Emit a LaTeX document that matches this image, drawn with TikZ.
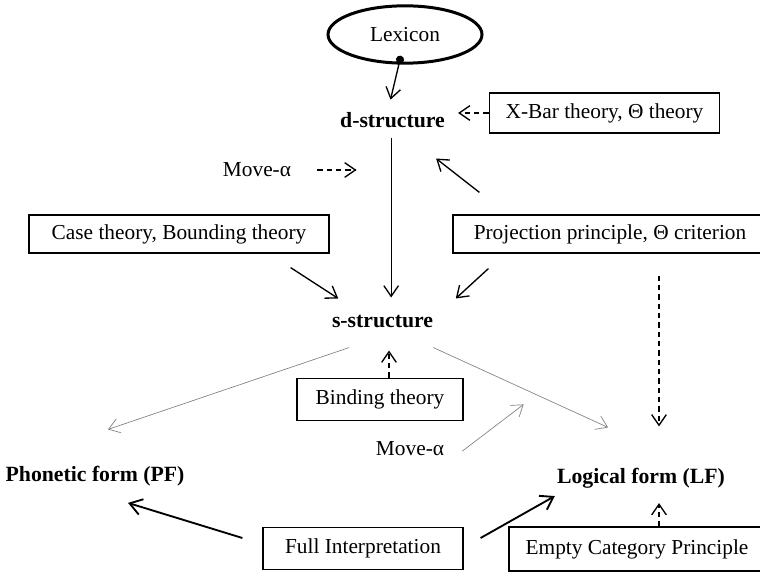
\documentclass[tikz,border=0pt]{standalone}
\usepackage{fontspec}
\setmainfont{Liberation Serif}
\usetikzlibrary{arrows.meta,shapes.geometric}
\begin{document}
\begin{tikzpicture}[x=0.75pt,y=-0.75pt,
	txt/.style={font=\fontsize{16}{19}\selectfont,inner sep=0pt},
	bold/.style={txt,font=\fontsize{16.3}{19}\selectfont\bfseries,anchor=base},
	box/.style={txt,draw,line width=0.9pt},
	arr/.style={-{Straight Barb[length=8pt,width=11pt]},line width=1pt},
	darr/.style={arr,dash pattern=on 4pt off 3pt},
	garr/.style={-{Straight Barb[length=8pt,width=11pt]},line width=0.5pt,gray},
	farr/.style={-{Straight Barb[length=9pt,width=12pt]},line width=1.4pt}]
	\useasboundingbox (0,0) rectangle (760,573);
	\clip (0,0) rectangle (760,573);

	\node[txt,ellipse,draw,line width=2.25pt,minimum width=115.5pt,minimum height=43pt] (lexicon) at (405,34.5) {Lexicon};
	\node[bold] (dstruct) at (392.5,128) {d-structure};
	\node[box,minimum width=173pt,minimum height=30pt] (xbar) at (604.5,113) {X-Bar theory, \char"0398\ theory};
	\node[txt] (movea) at (257,170) {Move-\char"03B1};
	\node[box,minimum width=225pt,minimum height=28.5pt] (casebox) at (179,234) {Case theory, Bounding theory};
	\node[box,minimum width=235.5pt,minimum height=28.5pt] (projbox) at (610,234) {Projection principle, \char"0398\ criterion};
	\node[bold] (sstruct) at (382.5,328) {s-structure};
	\node[box,minimum width=124.5pt,minimum height=32pt] (binding) at (380,399.5) {Binding theory};
	\node[txt,anchor=base] (moveb) at (410,455) {Move-\char"03B1};
	\node[bold] (pf) at (95,481) {Phonetic form (PF)};
	\node[bold] (lf) at (641,483) {Logical form (LF)};
	\node[box,minimum width=150pt,minimum height=32pt] (fullint) at (363,548.5) {Full Interpretation};
	\node[box,minimum width=192pt,minimum height=33pt] (ecp) at (637,549) {Empty Category Principle};

	\draw[{Circle[length=6pt]}-{Straight Barb[length=8pt,width=11pt]},line width=1pt,shorten <=-3pt] ([shift={(-5,-5)}]lexicon.south) -- ([shift={(-2,-13)}]dstruct.north);
	\draw[darr,shorten >=9.75pt] (xbar.west) -- (xbar.west -| dstruct.east);
	\draw[darr,shorten <=19.5pt,shorten >=27pt] (movea.east) -- (movea.east -| dstruct.south);
	\draw[arr,shorten <=6.75pt,shorten >=13.5pt] ([xshift=-1pt]dstruct.south) -- ([xshift=-1pt]dstruct.south |- sstruct.north);
	\draw[arr] ([shift={(-39,14)}]casebox.south east) -- ([shift={(6.5,-17)}]sstruct.north west);
	\draw[arr] ([shift={(36,15)}]projbox.south west) -- ([shift={(22.5,-17)}]sstruct.north east);
	\draw[arr] ([shift={(27,-22)}]projbox.north west) -- ([shift={(-9,30)}]dstruct.south east);
	\draw[darr] ([shift={(49,22)}]projbox.south) -- ([shift={(18,-41)}]lf.north);
	\draw[garr] ([shift={(17.5,19)}]sstruct.south west) -- ([shift={(13,-36)}]pf.north);
	\draw[garr] ([shift={(0,19)}]sstruct.south east) -- ([shift={(-33,-40)}]lf.north);
	\draw[darr] ([xshift=6.75pt]binding.north) -- ([shift={(6.5,22)}]sstruct.south);
	\draw[garr] ([shift={(18,3)}]moveb.east) -- ([shift={(60,-17)}]binding.south east);
	\draw[farr] ([shift={(-20,-10.5)}]fullint.west) -- ([shift={(33,17)}]pf.south);
	\draw[farr] ([shift={(17,-10.5)}]fullint.east) -- ([shift={(-2,8)}]lf.south west);
	\draw[darr] ([xshift=16.5pt]ecp.north) -- ([shift={(18,15)}]lf.south);
\end{tikzpicture}
\end{document}
